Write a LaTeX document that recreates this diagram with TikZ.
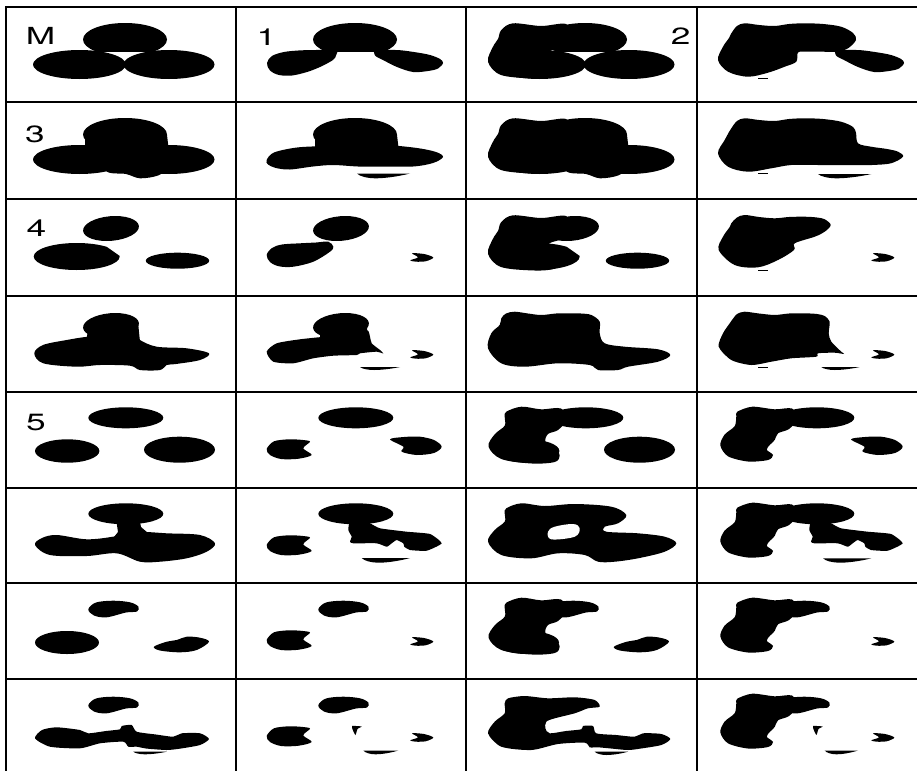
\documentclass[tikz,border=0pt]{standalone}
\usepackage{graphicx}
\usepackage{fontspec}
\newfontfamily\labfont{TeX Gyre Heros}
\newcommand\shp[1]{\fill plot[smooth cycle, tension=0.55] coordinates {#1};}
\newcommand\shpt[2]{\fill plot[smooth cycle, tension=#1] coordinates {#2};}
\newcommand\cell[3]{\begin{scope}[shift={(#1,#2)}]#3\end{scope}}
\newcommand\labtext[1]{\scalebox{1.5}[1]{#1}}
% row 0/1 components
\newcommand\shT{\begin{scope}\clip (60,0) rectangle (180,44.5); \fill (119,32.5) ellipse [x radius=42, y radius=16.5];\end{scope}}
\newcommand\shL{\fill (73.5,57.5) ellipse [x radius=46.5, y radius=14.5];}
\newcommand\shR{\fill (163,57.5) ellipse [x radius=45.5, y radius=14.5];}
\newcommand\shEa{\shp{(35.3,23) (47,16.3) (75,19) (100,17) (104,30) (95,40) (84,44) (80,50) (88.7,56.3) (93.7,63) (88.7,69.7) (68.7,71.5) (35,68) (22,54.7) (27,39.7) (32,32)}}
\newcommand\shLc{\shp{(31,56) (36,49) (48,45) (64,43.4) (80,43) (100,42.5) (100,48.5) (97,53) (84,60) (71,65) (56,68.5) (43,68) (34,63.5)}}
\newcommand\shRc{\shp{(139,43) (150,43) (164,43.2) (181,45.5) (194,48) (204,52) (207,56) (202,61.5) (192,64) (177,65) (161,60) (147,53) (139,48.5)}}
\newcommand\shCn{\fill (79,50) -- (79,33) -- (161,33) -- (163,50) -- cycle;}
\newcommand\shBu{\shp{(95,48) (130,46) (158,52) (160,66) (152,73.5) (134,76.3) (120,72) (100,69)}}
\newcommand\shDash{\fill (61,70.8) rectangle (71,72.3);}
\newcommand\shSl[4]{\fill (#1,#3) -- (#2,#3) .. controls ({0.75*#2+0.25*#1},{#3+0.7*(#4-#3)}) and ({0.5*#2+0.5*#1},{#4}) .. ({0.35*#2+0.65*#1},{#4}) .. controls ({0.2*#2+0.8*#1},{#4}) and ({0.05*#2+0.95*#1},{#3+0.6*(#4-#3)}) .. cycle;}
% row 2/3 components
\newcommand\shTf{\fill[rotate around={5:(105,29.5)}] (105,29.5) ellipse [x radius=28, y radius=12.3];}
\newcommand\shLf{\begin{scope}\clip (0,0) -- (95.7,0) -- (95.7,44.3) -- (125,64.9) -- (125,100) -- (0,100) -- cycle; \fill (70.7,57.5) ellipse [x radius=43, y radius=13.5];\end{scope}}
\newcommand\shRf{\fill (171.5,61.7) ellipse [x radius=31.7, y radius=8];}
\newcommand\shRfc{\shpt{0.5}{(176,54.3) (188,55) (197.3,58.5) (190,62.2) (180,62.7) (174.3,61.3) (182,58.3)}}
\newcommand\shLfc{\shp{(30.7,56) (36,49) (46,45.5) (64,44.3) (80,43.5) (92.3,42.7) (97.3,47.7) (94,52.7) (77.3,62.7) (57.3,67.7) (43,67.3) (34,63)}}
% row 4/5 components
\newcommand\shTv{\fill (119.8,25.8) ellipse [x radius=37.5, y radius=10.5];}
\newcommand\shLv{\fill (61.2,59) ellipse [x radius=32.2, y radius=11.7];}
\newcommand\shRv{\fill (173.5,57.7) ellipse [x radius=35.5, y radius=13];}
\newcommand\shLvc{\shpt{0.5}{(30.7,57) (38,49.3) (53,47.3) (67,48) (74,49.7) (67.3,56.3) (75.7,63) (62,66.8) (45,67) (34,63)}}
\newcommand\shRvc{\shpt{0.5}{(154,47.3) (167.3,54.7) (165.7,59.7) (180.7,63) (198,61) (205.7,54.7) (198,48) (184,44.7) (168,45)}}
\newcommand\shEb{\shp{(40.3,19.7) (55.3,14.7) (75,17.3) (95,16.5) (100,28) (92,38) (82,42) (79.5,50) (88.7,56.5) (93.7,63.5) (88.7,70) (66,71.5) (35.3,67) (22.5,54.5) (28.7,42.3) (38.7,33.7) (38.7,24.7)}}
\newcommand\shEbc{\shpt{0.5}{(40.3,19.7) (55.3,14.7) (77.7,17.3) (95,16.5) (100,27) (92,37) (81,41.3) (77.7,48) (72.7,53) (69.8,57.8) (76,63) (71,68) (51,69.5) (31,64.3) (23.3,53.3) (27.7,42.5) (37.7,34.2) (39.3,24.3)}}
\newcommand\shJg{\shpt{0.3}{(125,33) (114,33.7) (112.3,42) (115.7,48.7) (114,53.7) (117.3,55.3) (140.7,55.3) (150.7,58.7) (155.7,55.3) (160.7,52) (167.3,55.3) (168.3,58.7) (174,62) (190.7,62.7) (205.7,55.3) (194,46) (170.7,43.7) (144,40.3) (134,35.3)}}
% row 6/7 components
\newcommand\shTs{\shp{(82.3,26.3) (90,19.5) (107.3,17.7) (124,19.3) (132.3,23.5) (131,28.5) (120,29.5) (100.7,34.3) (88,32.5)}}
\newcommand\shLs{\fill (61,59.5) ellipse [x radius=32, y radius=11.5];}
\newcommand\shRs{\shp{(148,63.7) (160.7,58.7) (170.7,57) (180.7,53.7) (194,54.7) (203,58.7) (190.7,67) (174,69.3) (154,67.5)}}
\newcommand\shFr{\shpt{0.3}{(116,47) (125.7,47.5) (121.5,50) (119.5,56) (117,51.5)}}
\tikzset{gridline/.style={line width=1.7pt, black},
  lab/.style={font=\labfont\fontsize{23.5}{23.5}\selectfont, inner sep=0pt, anchor=base west}}
\begin{document}
\begin{tikzpicture}[x=1pt,y=-1pt]
\useasboundingbox (0,0) rectangle (917,771);
\fill[white] (0,0) rectangle (917,771);
% ---------- row 0
\cell{6}{7}{\shT\shL\shR}
\cell{236}{7}{\shT\shLc\shRc}
\cell{466}{7}{\shEa\shT\shL\shR}
\cell{697}{7}{\shp{(34.3,26.3) (40,19) (47.7,16.3) (62,18) (77.7,19) (92,17) (107.7,16.3) (126,17) (144,19.7) (156,26) (159,33) (151,41.3) (141,44.7) (125,44.7) (110,44.7) (101,45.5) (99.3,54.7) (87.7,59.7) (71,65.7) (51,69.7) (31,64.7) (21,53) (26,39.7) (32,31)}\shRc\shDash}
% ---------- row 1
\cell{6}{102}{\shT\shL\shR\shCn\shBu}
\cell{236}{102}{\shT\shCn\shp{(30.7,58) (38,50.5) (61,45.5) (90,44) (120,43) (150,43) (181,46) (200,50) (207,55) (197,61) (177,64.5) (144,64.5) (122,64.5) (97,63) (77,64.5) (54,67.5) (40,66) (32,62.5)}\shSl{121}{174}{71.5}{76.3}}
\cell{466}{102}{\shEa\shT\shL\shR\shCn\shBu}
\cell{697}{102}{\shp{(34.3,26.3) (40,19) (47.7,16.3) (62,18) (77.7,19) (92,17) (107.7,16.3) (126,17) (144,19.7) (156,25) (159,31) (161,41.3) (174,44.7) (190,47) (201,49.7) (206,54.7) (194,61.3) (175,63) (161,63) (141,63) (121,63) (94.3,63) (74.3,66.3) (51,69.7) (31,64.7) (21,51.3) (27.7,38) (32,30)}\shSl{121}{174.3}{72}{76.3}\shDash}
% ---------- row 2
\cell{6}{199}{\shTf\shLf\shRf}
\cell{236}{199}{\shTf\shLfc\shRfc}
\cell{466}{199}{\shEa\shLf\shTf\shRf}
\cell{697}{199}{\shp{(34.3,24.3) (40,18.5) (47.7,16) (62,18) (77.7,19.3) (92,18) (107.7,17.7) (120,18.5) (127.7,20.3) (133.7,26) (127.7,32.7) (117.7,37.7) (97.7,44.3) (97,51) (81,61) (61,68.3) (37.7,66) (21.7,51) (26,37.7) (32.7,28)}\shDash\shRfc}
% ---------- row 3
\cell{6}{296}{\shTf\fill (80,46) -- (82,34) -- (132,26) -- (134,46) -- cycle;\shp{(28.3,57.3) (37,49) (60.7,44) (82.3,40.7) (105,40) (130.7,38) (134,44) (150.7,50.7) (180.7,52.3) (203,57.3) (194,64) (170,68) (160.7,69) (154,74) (134,74) (124,69.7) (94,69) (70.7,70.7) (37.3,67.3)}}
\cell{236}{296}{\shTf\fill (84,44) -- (84,33) -- (131,26) -- (131,42) -- cycle;\shpt{0.4}{(30.7,55.7) (40.7,47.3) (64,43.3) (89,40.7) (110,39) (130.7,34) (134,40.7) (135.7,47.3) (144,54) (147.3,57.5) (140.7,55.7) (124,57.3) (120.7,59) (97.3,59.7) (77.3,62.3) (57.3,67.3) (37.3,65.7)}\shRfc\shSl{124}{164}{71}{74}}
\cell{466}{296}{\shp{(35.3,22.3) (40,17.5) (48.7,15.7) (62,17.5) (75.3,19) (90,17.5) (102,17.3) (115,17.5) (125.3,19) (133.7,25.7) (133.7,37.3) (138.7,47.3) (158.7,50.7) (192,53.3) (204.3,59) (192,65.7) (162,70.7) (152,74) (132,74) (123.7,69) (92,67.3) (58.7,70.7) (35.3,67.3) (22,52.3) (25.3,37.3) (33.7,29)}}
\cell{697}{296}{\shpt{0.45}{(34.3,25) (40,18) (47.7,15.7) (62,17.5) (77.7,19) (92,17.5) (107.7,17.3) (120,18) (127.7,20) (132.7,25.7) (131.7,37.3) (134.3,45.7) (144.3,55.7) (147,58) (137.7,56.7) (121,57.3) (119.3,60.7) (94.3,62.3) (74.3,65.7) (54.3,69) (34.3,64) (21.7,50.7) (26,37.3) (32.7,27.3)}\shDash\shRfc\shSl{124.3}{162.7}{71}{74}}
% ---------- row 4
\cell{6}{392}{\shTv\shLv\shRv}
\cell{236}{392}{\shTv\shLvc\shRvc}
\cell{466}{392}{\shEb\shTv\shLv\shRv}
\cell{697}{392}{\shEbc\shTv\shRvc}
% ---------- row 5
\cell{6}{488}{\shTv\shp{(29,57) (36,50) (50.7,47) (80.7,51.3) (108,48.5) (125,44) (140.7,44) (160.7,45.3) (194,47) (209,55.3) (200.7,63.7) (180.7,70.3) (154,73.7) (134,73.7) (110.7,65.3) (80.7,68) (44,67)}\fill (108,49) -- (112,44) -- (110.5,34) -- (134,34) -- (135,39) -- (142,45) -- cycle;}
\cell{236}{488}{\shTv\shLvc\shJg\shSl{125.7}{174}{70}{74.7}}
\cell{466}{488}{\shp{(40.3,20.3) (55.3,15.3) (78.7,18) (108.7,16) (145.3,18.7) (160.3,27) (152,35.3) (138.7,38.7) (140.3,43.7) (172,45.3) (198.7,48.7) (210.3,55.3) (198.7,63.7) (172,70.3) (148.7,73.7) (132,73.7) (118.7,67) (92,65.3) (65.3,70.3) (35.3,67) (22,53.7) (28.7,42) (38.7,33.7) (38.7,25.3)}\fill[white] plot[smooth cycle, tension=0.6] coordinates {(82,43.7) (85.3,51.3) (108.7,48.7) (113.7,40.3) (107,36) (88.7,38.7)};}
\cell{697}{488}{\shEbc\shTv\shJg\shSl{126}{174.3}{70.3}{74.7}}
% ---------- row 6
\cell{6}{583}{\shTs\shLs\shRs}
\cell{236}{583}{\shTs\shLvc\shRfc}
\cell{466}{583}{\shEb\shTs\shLs\shRs}
\cell{697}{583}{\shEbc\shTs\shRfc}
% ---------- row 7
\cell{6}{679}{\shTs\shpt{0.4}{(29,59.3) (36,51) (50.7,48.3) (74,51) (82.3,54.3) (100,52) (114,50.3) (115.7,47) (125.7,46) (130.7,52.7) (150,55.5) (167.3,57.7) (175.7,54.3) (194,54.3) (203,60) (194,66) (175,69.5) (160.7,71) (140,69.5) (130.7,67.7) (122.3,67.7) (117.3,62.7) (94,64.3) (74,69.3) (44,67.7)}\shSl{127.3}{160.7}{72.7}{75.3}}
\cell{236}{679}{\shTs\shLvc\shFr\shRfc\shSl{127.3}{162.3}{71.5}{75.3}}
\cell{466}{679}{\shpt{0.45}{(38.7,24.3) (42,19.3) (58.7,17) (82,19.3) (108.7,18.3) (128.7,21) (133.7,27.7) (122,29.3) (108.7,34.3) (88.7,39.3) (80.3,42.7) (79.3,49.3) (83.7,54.3) (100,52) (115.3,50.3) (117,47) (127,47) (130.3,54.3) (150,56) (168.7,57.7) (177,54.3) (195.3,55) (204.3,60) (195.3,66) (175,69.5) (162,71) (145,69.5) (132,68.3) (123.7,68.3) (118.7,63.7) (92,65) (65.3,71) (35.3,67.7) (22,54.3) (28.7,42.7) (38.7,34.3)}\shSl{128.7}{162}{72.7}{76}}
\cell{697}{679}{\shEbc\shTs\shFr\shRfc\shSl{127.7}{161}{71.5}{75.3}}
% ---------- labels
\node[lab] (labM) at (25.7,44.8) {\labtext{M}};
\node[lab] (lab1) at (256.5,45) {\labtext{1}};
\node[lab] (lab2) at (670.6,44.5) {\labtext{2}};
\node[lab] (lab3) at (24.8,142.5) {\labtext{3}};
\node[lab] (lab4) at (26.3,236.7) {\labtext{4}};
\node[lab] (lab5) at (25.8,430.7) {\labtext{5}};
% ---------- grid
\foreach \yy in {7,102,199,296,392,488,583,679} \draw[gridline] (5.2,\yy) -- (917,\yy);
\foreach \xx in {6,236,466,697} \draw[gridline] (\xx,6.2) -- (\xx,771);
\end{tikzpicture}
\end{document}
